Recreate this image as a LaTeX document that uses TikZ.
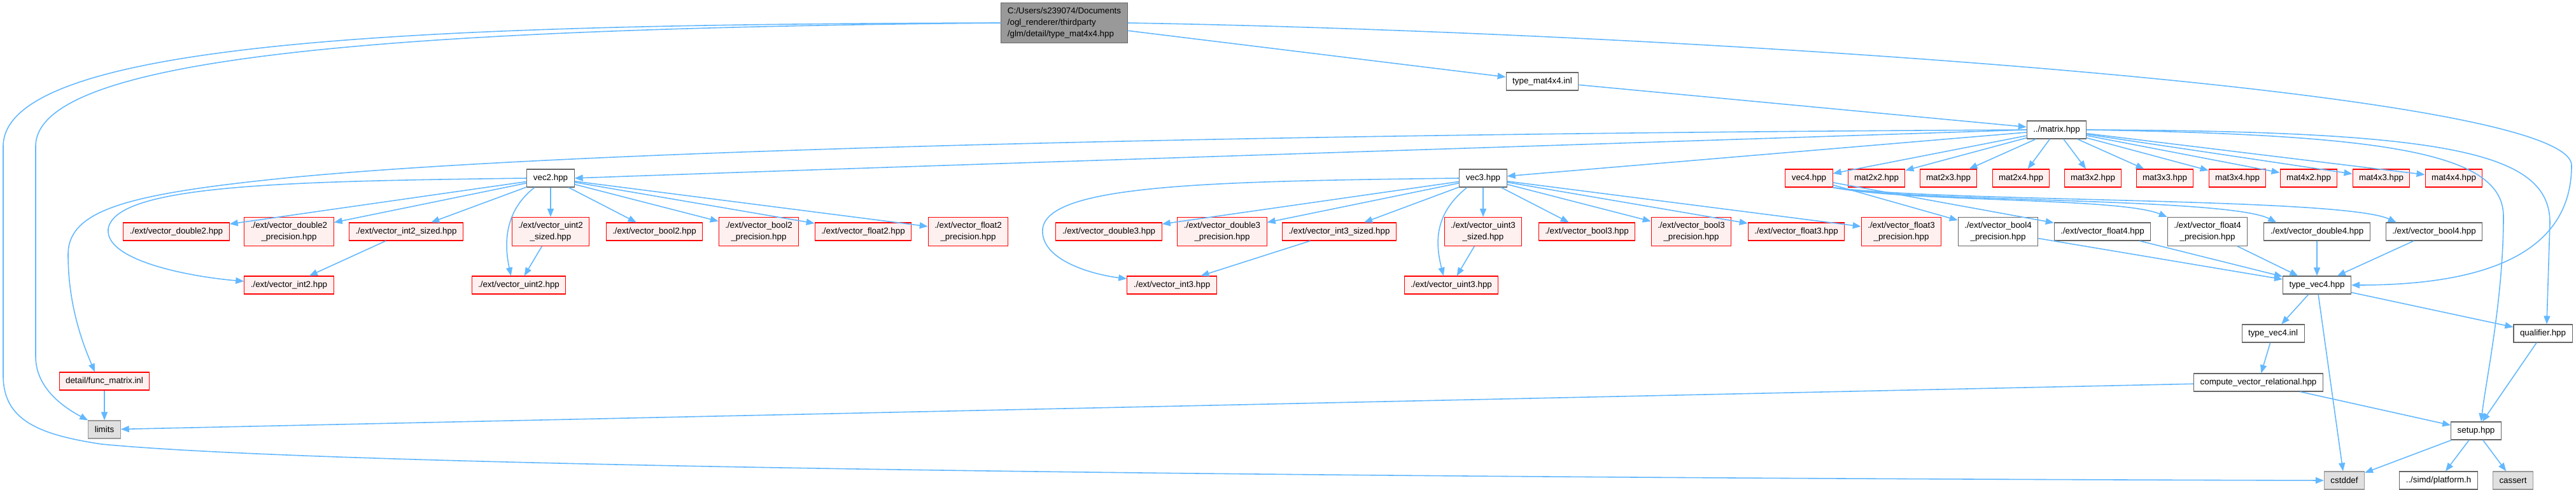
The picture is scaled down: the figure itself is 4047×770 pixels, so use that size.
\documentclass[tikz,border=0pt]{standalone}
\usepackage{fontspec}
\setmainfont{Liberation Sans}
\usetikzlibrary{arrows.meta}

\definecolor{edgeblue}{HTML}{63B8FF}
\definecolor{truncfill}{HTML}{FFF0F0}
\definecolor{extfill}{HTML}{E0E0E0}
\definecolor{rootfill}{HTML}{999999}
\definecolor{boxline}{HTML}{666666}
\definecolor{extline}{HTML}{999999}

\begin{document}
\begin{tikzpicture}[x=0.01cm, y=-0.01cm,
    every node/.style={font=\fontsize{3.8}{5}\selectfont, inner xsep=0.1cm, inner ysep=0.075cm, minimum height=0.28cm, line width=0.3pt},
    hdr/.style={draw=boxline, fill=white},
    trunc/.style={draw=red, fill=truncfill},
    extbox/.style={draw=extline, fill=extfill},
    twoline/.style={align=center, minimum height=0.45cm},
    dep/.style={draw=edgeblue, line width=0.45pt, -{Triangle[length=0.13cm, width=0.1cm]}}]

    \useasboundingbox (0,0) rectangle (4047,770);

    % File being documented
    \node[draw=boxline, fill=rootfill, align=left, minimum height=0.62cm] (root) at (1672,36) {C:/Users/s239074/Documents\\/ogl\_renderer/thirdparty\\/glm/detail/type\_mat4x4.hpp};
    \node[hdr] (matinl) at (2423,128) {type\_mat4x4.inl};
    \node[hdr] (matrix) at (3231,204) {../matrix.hpp};

    % Vector and matrix headers
    \node[hdr] (vec2) at (865,280) {vec2.hpp};
    \node[hdr] (vec3) at (2330,280) {vec3.hpp};
    \node[trunc] (vec4) at (2842,280) {vec4.hpp};
    \node[trunc] (m22) at (2948,280) {mat2x2.hpp};
    \node[trunc] (m23) at (3061,280) {mat2x3.hpp};
    \node[trunc] (m24) at (3175,280) {mat2x4.hpp};
    \node[trunc] (m32) at (3288,280) {mat3x2.hpp};
    \node[trunc] (m33) at (3401,280) {mat3x3.hpp};
    \node[trunc] (m34) at (3515,280) {mat3x4.hpp};
    \node[trunc] (m42) at (3627,280) {mat4x2.hpp};
    \node[trunc] (m43) at (3741,280) {mat4x3.hpp};
    \node[trunc] (m44) at (3855,280) {mat4x4.hpp};

    % ext headers
    \node[trunc] (dbl2) at (277,364) {./ext/vector\_double2.hpp};
    \node[trunc, twoline] (dbl2p) at (454,364) {./ext/vector\_double2\\\_precision.hpp};
    \node[trunc] (int2s) at (638,364) {./ext/vector\_int2\_sized.hpp};
    \node[trunc, twoline] (uint2s) at (865,364) {./ext/vector\_uint2\\\_sized.hpp};
    \node[trunc] (bool2) at (1028,364) {./ext/vector\_bool2.hpp};
    \node[trunc, twoline] (bool2p) at (1192,364) {./ext/vector\_bool2\\\_precision.hpp};
    \node[trunc] (flt2) at (1356,364) {./ext/vector\_float2.hpp};
    \node[trunc, twoline] (flt2p) at (1521,364) {./ext/vector\_float2\\\_precision.hpp};
    \node[trunc] (dbl3) at (1742,364) {./ext/vector\_double3.hpp};
    \node[trunc, twoline] (dbl3p) at (1920,364) {./ext/vector\_double3\\\_precision.hpp};
    \node[trunc] (int3s) at (2104,364) {./ext/vector\_int3\_sized.hpp};
    \node[trunc, twoline] (uint3s) at (2330,364) {./ext/vector\_uint3\\\_sized.hpp};
    \node[trunc] (bool3) at (2493,364) {./ext/vector\_bool3.hpp};
    \node[trunc, twoline] (bool3p) at (2657,364) {./ext/vector\_bool3\\\_precision.hpp};
    \node[trunc] (flt3) at (2822,364) {./ext/vector\_float3.hpp};
    \node[trunc, twoline] (flt3p) at (2987,364) {./ext/vector\_float3\\\_precision.hpp};
    \node[hdr, twoline] (bool4p) at (3139,364) {./ext/vector\_bool4\\\_precision.hpp};
    \node[hdr] (flt4) at (3303,364) {./ext/vector\_float4.hpp};
    \node[hdr, twoline] (flt4p) at (3468,364) {./ext/vector\_float4\\\_precision.hpp};
    \node[hdr] (dbl4) at (3640,364) {./ext/vector\_double4.hpp};
    \node[hdr] (bool4) at (3824,364) {./ext/vector\_bool4.hpp};

    \node[trunc] (int2) at (454,448) {./ext/vector\_int2.hpp};
    \node[trunc] (uint2) at (815,448) {./ext/vector\_uint2.hpp};
    \node[trunc] (int3) at (1841,448) {./ext/vector\_int3.hpp};
    \node[trunc] (uint3) at (2280,448) {./ext/vector\_uint3.hpp};

    % detail headers
    \node[hdr] (tvec4) at (3640,448) {type\_vec4.hpp};
    \node[hdr] (tvecinl) at (3571,524) {type\_vec4.inl};
    \node[hdr] (qual) at (3995,524) {qualifier.hpp};
    \node[trunc] (funcmat) at (164,599) {detail/func\_matrix.inl};
    \node[hdr] (compvr) at (3548,601) {compute\_vector\_relational.hpp};
    \node[extbox] (limits) at (164,675) {limits};
    \node[hdr] (setup) at (3890,677) {setup.hpp};
    \node[extbox] (cstddef) at (3683,755) {cstddef};
    \node[hdr] (platform) at (3831,755) {../simd/platform.h};
    \node[extbox] (cassert) at (3948,755) {cassert};

    % type_mat4x4.hpp includes
    \draw[dep] (root) -- (matinl);
    \draw[dep] (root.east) .. controls (2600,50) and (4040,140) .. (4040,260) .. controls (4040,400) and (3900,448) .. (tvec4.east);
    \draw[dep] (root.west) .. controls (600,45) and (56,90) .. (56,230) -- (56,560) .. controls (56,610) and (100,640) .. (limits.north west);
    \draw[dep] (root.west) .. controls (700,38) and (5,60) .. (5,230) -- (5,590) .. controls (5,660) and (60,683) .. (160,698) .. controls (600,740) and (2500,752) .. (cstddef.west);
    \draw[dep] (matinl) -- (matrix);

    % ../matrix.hpp includes
    \draw[dep] (matrix.west) .. controls (2400,230) and (1400,262) .. (vec2.east);
    \draw[dep] (matrix) -- (vec3);
    \draw[dep] (matrix) -- (vec4);
    \draw[dep] (matrix) -- (m22);
    \draw[dep] (matrix) -- (m23);
    \draw[dep] (matrix) -- (m24);
    \draw[dep] (matrix) -- (m32);
    \draw[dep] (matrix) -- (m33);
    \draw[dep] (matrix) -- (m34);
    \draw[dep] (matrix) -- (m42);
    \draw[dep] (matrix) -- (m43);
    \draw[dep] (matrix) -- (m44);
    \draw[dep] (matrix.west) .. controls (2000,210) and (900,235) .. (446,280) .. controls (200,305) and (107,330) .. (107,400) .. controls (107,480) and (130,540) .. ([xshift=-0.15cm]funcmat.north);
    \draw[dep] (matrix.east) .. controls (3750,212) and (3933,240) .. (3933,340) .. controls (3933,470) and (3905,600) .. ([xshift=0.08cm]setup.north);
    \draw[dep] (matrix.east) .. controls (3850,206) and (4006,240) .. (4006,350) -- ([xshift=0.06cm]qual.north);

    % vec2.hpp includes
    \draw[dep] (vec2) -- (dbl2);
    \draw[dep] (vec2) -- (dbl2p);
    \draw[dep] (vec2) -- (int2s);
    \draw[dep] (vec2) -- (uint2s);
    \draw[dep] (vec2.210) .. controls +(-45,35) and +(-12,-55) .. (uint2.130);
    \draw[dep] (vec2) -- (bool2);
    \draw[dep] (vec2) -- (bool2p);
    \draw[dep] (vec2) -- (flt2);
    \draw[dep] (vec2) -- (flt2p);
    \draw[dep] (vec2.west) .. controls (450,285) and (180,290) .. (170,360) .. controls (165,410) and (300,435) .. ([yshift=0.06cm]int2.west);
    \draw[dep] (int2s) -- (int2);
    \draw[dep] (uint2s) -- (uint2);

    % vec3.hpp includes
    \draw[dep] (vec3) -- (dbl3);
    \draw[dep] (vec3) -- (dbl3p);
    \draw[dep] (vec3) -- (int3s);
    \draw[dep] (vec3) -- (uint3s);
    \draw[dep] (vec3.west) .. controls (1900,285) and (1645,290) .. (1638,360) .. controls (1634,410) and (1720,432) .. ([yshift=0.1cm]int3.west);
    \draw[dep] (vec3.210) .. controls +(-50,40) and +(-14,-55) .. (uint3.130);
    \draw[dep] (vec3) -- (bool3);
    \draw[dep] (vec3) -- (bool3p);
    \draw[dep] (vec3) -- (flt3);
    \draw[dep] (vec3) -- (flt3p);
    \draw[dep] (int3s) -- (int3);
    \draw[dep] (uint3s) -- (uint3);

    % vec4.hpp includes
    \draw[dep] (vec4) -- (bool4p);
    \draw[dep] (vec4) -- (flt4);
    \draw[dep] (vec4.south east) .. controls (3000,318) and (3330,310) .. (flt4p.north west);
    \draw[dep] (vec4.south east) .. controls (3000,318) and (3500,310) .. ([xshift=0.2cm]dbl4.north west);
    \draw[dep] (vec4.south east) .. controls (3050,318) and (3680,310) .. ([xshift=0.17cm]bool4.north west);
    \draw[dep] (bool4p) -- (tvec4);
    \draw[dep] (flt4) -- (tvec4);
    \draw[dep] (flt4p) -- (tvec4);
    \draw[dep] (dbl4) -- (tvec4);
    \draw[dep] (bool4) -- (tvec4);

    % detail headers
    \draw[dep] (tvec4) -- (tvecinl);
    \draw[dep] (tvec4) -- (qual);
    \draw[dep] (tvec4) -- (cstddef);
    \draw[dep] (tvecinl) -- (compvr);
    \draw[dep] (compvr) -- (limits);
    \draw[dep] (compvr) -- (setup);
    \draw[dep] (qual) -- (setup);
    \draw[dep] (funcmat) -- (limits);
    \draw[dep] (setup) -- (cstddef);
    \draw[dep] (setup) -- (platform);
    \draw[dep] (setup) -- (cassert);
\end{tikzpicture}
\end{document}
